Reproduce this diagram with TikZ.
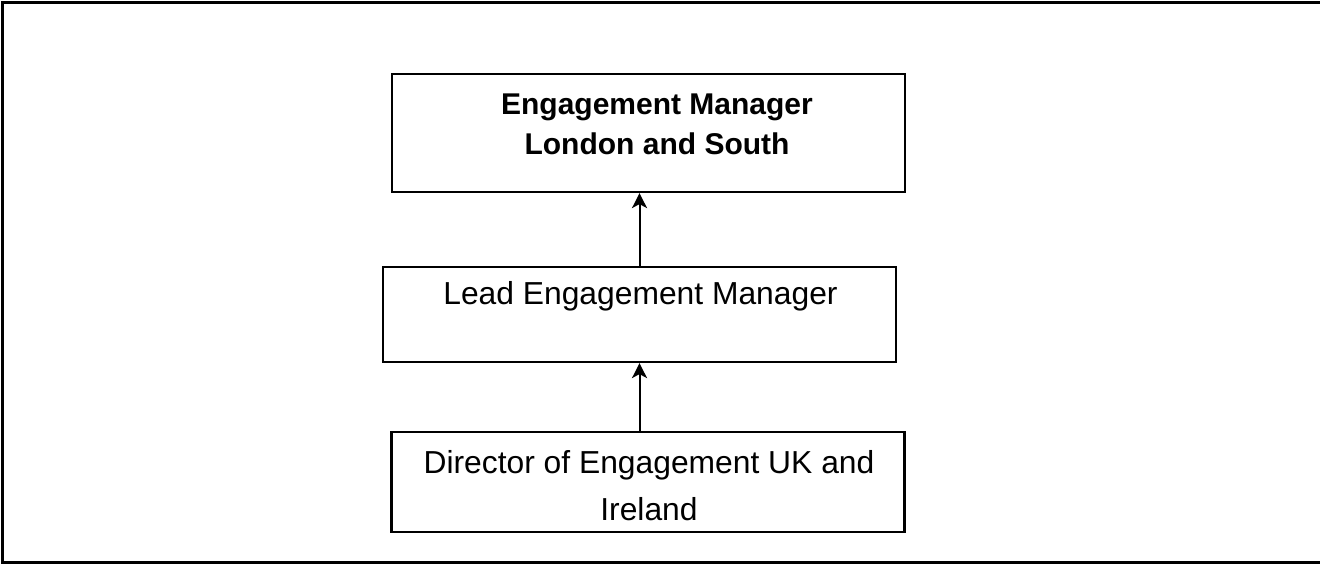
\documentclass[tikz,border=0pt]{standalone}
\usepackage{fontspec}
\setmainfont{Liberation Sans}
\usetikzlibrary{arrows.meta}
\begin{document}
\begin{tikzpicture}[x=1pt,y=-1pt,
	box/.style={draw,line width=2.2pt,minimum width=513pt,inner sep=0pt},
	txt/.style={inner sep=0pt,align=center,font={\fontsize{31.8pt}{47.4pt}\selectfont}},
	txtbold/.style={inner sep=0pt,align=center,font={\fontsize{30pt}{39.7pt}\selectfont\bfseries}},
	arr/.style={line width=2pt,-{Stealth[length=15pt,width=15pt,inset=4pt]}}]
	\useasboundingbox (0,0) rectangle (1320,564);
	\draw[line width=2.6pt] (2.3,2.3) rectangle (1326,562.5);
	\node[box,minimum height=118pt] (em) at (648.5,133) {};
	\node[box,minimum height=95pt] (lem) at (639.5,314.5) {};
	\node[box,minimum height=100pt] (doe) at (648,482) {};
	\node[txtbold,anchor=north] (emtxt) at (657,94) {Engagement Manager\\London and South};
	\node[txt,anchor=base] (lemtxt) at (640.5,304.5) {Lead Engagement Manager};
	\node[txt,anchor=north] (doetxt) at (649,450) {Director of Engagement UK and\\Ireland};
	\draw[arr] (lem.north) -- (lem.north |- em.south);
	\draw[arr] (doe.north -| lem.north) -- (lem.south);
\end{tikzpicture}
\end{document}
